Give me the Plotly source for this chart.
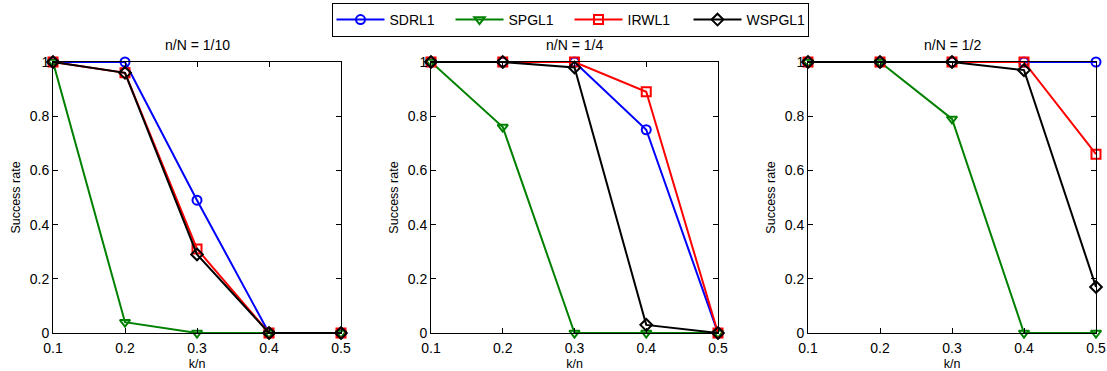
import plotly.graph_objects as go

k_over_n = [0.1, 0.2, 0.3, 0.4, 0.5]
panel_titles = ["n/N = 1/10", "n/N = 1/4", "n/N = 1/2"]
methods = ["SDRL1", "SPGL1", "IRWL1", "WSPGL1"]

sdrl1 = [[1, 1, 0.49, 0, 0], [1, 1, 1, 0.75, 0], [1, 1, 1, 1, 1]]
spgl1 = [[1, 0.04, 0, 0, 0], [1, 0.76, 0, 0, 0], [1, 1, 0.79, 0, 0]]
irwl1 = [[1, 0.96, 0.31, 0, 0], [1, 1, 1, 0.89, 0], [1, 1, 1, 1, 0.66]]
wspgl1 = [[1, 0.96, 0.29, 0, 0], [1, 1, 0.98, 0.03, 0], [1, 1, 1, 0.97, 0.17]]

y_ticks = [0, 0.2, 0.4, 0.6, 0.8, 1]
y_tick_text = ["0", "0.2", "0.4", "0.6", "0.8", "1"]
x_ticks = [0.1, 0.2, 0.3, 0.4, 0.5]
x_tick_text = ["0.1", "0.2", "0.3", "0.4", "0.5"]

series = [sdrl1, spgl1, irwl1, wspgl1]
colors = ["#0000FF", "#008000", "#FF0000", "#000000"]
symbols = ["circle-open", "triangle-down-open", "square-open", "diamond-open"]

W, H = 1107, 371
panels_px = [(53, 341), (431, 718), (808, 1096)]
top_px, bot_px = 62, 333

fig = go.Figure()
FONT = "Liberation Sans, Arial, Helvetica, sans-serif"

for p in range(3):
    sfx = "" if p == 0 else str(p + 1)
    for m in range(4):
        fig.add_trace(go.Scatter(
            x=k_over_n, y=series[m][p], mode="lines+markers",
            name=methods[m], showlegend=(p == 0), legendgroup=methods[m],
            line=dict(color=colors[m], width=2),
            marker=dict(symbol=symbols[m], size=9, color=colors[m],
                        line=dict(width=2, color=colors[m])),
            cliponaxis=False,
            xaxis="x" + sfx, yaxis="y" + sfx,
        ))
    x0, x1 = panels_px[p]
    axcommon = dict(showline=True, linecolor="black", linewidth=1, mirror="allticks",
                    ticks="inside", ticklen=5, tickcolor="black", showgrid=False,
                    zeroline=False, tickfont=dict(size=14, color="black", family=FONT))
    fig.layout["xaxis" + sfx] = dict(
        domain=[x0 / W, x1 / W], range=[0.1, 0.5], anchor="y" + sfx,
        tickvals=x_ticks, ticktext=x_tick_text, ticklabelstandoff=2,
        title=dict(text="k/n", font=dict(size=12.5, color="black", family=FONT), standoff=4),
        **axcommon)
    fig.layout["yaxis" + sfx] = dict(
        domain=[1 - bot_px / H, 1 - top_px / H], range=[0, 1], anchor="x" + sfx,
        tickvals=y_ticks, ticktext=y_tick_text, ticklabelstandoff=0,
        title=dict(text="Success rate", font=dict(size=12.5, color="black", family=FONT), standoff=6),
        **axcommon)
    fig.add_annotation(text=panel_titles[p], x=(x0 + x1) / 2 / W, y=1 - 45 / H,
                       xref="paper", yref="paper", showarrow=False,
                       font=dict(size=14, color="black", family=FONT),
                       xanchor="center", yanchor="middle")

fig.update_layout(
    width=W, height=H,
    margin=dict(l=0, r=0, t=0, b=0, autoexpand=False),
    plot_bgcolor="white", paper_bgcolor="white",
    font=dict(family=FONT, color="black"),
    legend=dict(orientation="h", x=570 / W, y=1 - 3 / H, xanchor="center", yanchor="top",
                bordercolor="black", borderwidth=1, bgcolor="white",
                font=dict(size=14, color="black", family=FONT),
                itemwidth=48, entrywidth=56, entrywidthmode="pixels", tracegroupgap=0),
)

fig.write_html("out.html", config={"displayModeBar": False},
               post_script="document.body.style.margin='0px';document.body.style.overflow='hidden';")
